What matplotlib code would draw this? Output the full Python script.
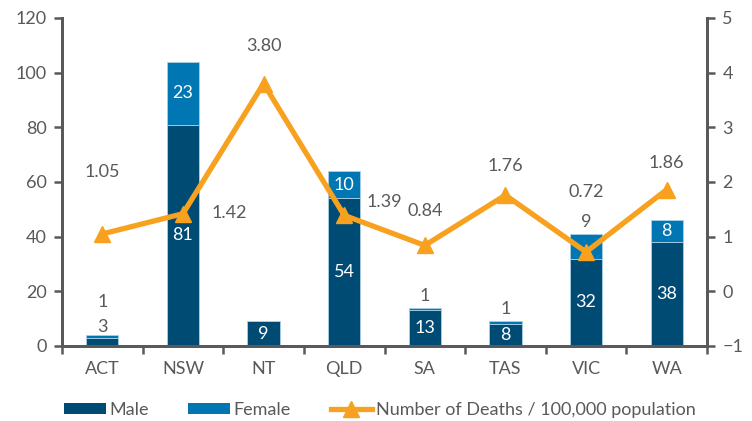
import matplotlib
matplotlib.use("Agg")
import matplotlib.pyplot as plt
from matplotlib.lines import Line2D
from matplotlib.patches import Patch
import numpy as np

states = ["ACT", "NSW", "NT", "QLD", "SA", "TAS", "VIC", "WA"]
male = [3, 81, 9, 54, 13, 8, 32, 38]
female = [1, 23, 0, 10, 1, 1, 9, 8]
rate = [1.05, 1.42, 3.80, 1.39, 0.84, 1.76, 0.72, 1.86]
rate_labels = ["1.05", "1.42", "3.80", "1.39", "0.84", "1.76", "0.72", "1.86"]

# label placement styles (not data), offsets in pixels
male_outside = [True, False, False, False, False, False, False, False]
female_outside = [True, False, False, False, True, True, True, False]
rate_offsets = [(0, 62), (46, 1), (0, 38), (40, 13), (0, 34), (0, 29), (0, 60), (0, 27)]

DARK = "#004B74"
MID = "#0077B3"
ORANGE = "#F7A11F"
GRAY = "#595959"
FS = 13

plt.rcParams["font.family"] = ["Lato", "DejaVu Sans"]

fig = plt.figure(figsize=(7.52, 4.21), dpi=100)
ax = fig.add_axes([62/752, 1-346/421, (707-62)/752, (346-18)/421])
x = np.arange(len(states))
w = 0.4
edge = "#a9d0e6"
ax.bar(x, male, w, color=DARK, edgecolor=edge, linewidth=0.6, zorder=2)
ax.bar(x, female, w, bottom=male, color=MID, edgecolor=edge, linewidth=0.6, zorder=2)

ax.set_xlim(-0.5, len(states) - 0.5)
ax.set_ylim(0, 120)
ax.set_yticks(range(0, 121, 20))
ax.set_xticks(x)
ax.set_xticklabels(states)
ax.set_xticks(np.arange(-0.5, len(states), 1), minor=True)
ax.tick_params(axis="x", which="major", length=0, pad=11, labelsize=FS, labelcolor=GRAY)
ax.tick_params(axis="x", which="minor", length=6, width=1.8, color=GRAY, direction="out")
ax.tick_params(axis="y", length=6, width=1.8, color=GRAY, labelsize=FS, labelcolor=GRAY, pad=5)
for s in ["left", "bottom", "right"]:
    ax.spines[s].set_color(GRAY)
    ax.spines[s].set_linewidth(2)
ax.spines["top"].set_visible(False)

# bar labels
for i in range(len(states)):
    m, f = male[i], female[i]
    if m > 0:
        if male_outside[i]:
            ax.annotate(str(m), (x[i], m + f), xytext=(0, 0), textcoords="offset points",
                        ha="center", va="bottom", color=GRAY, fontsize=FS, zorder=5)
        else:
            ax.text(x[i], m / 2, str(m), ha="center", va="center", color="white", fontsize=FS, zorder=5)
    if f > 0:
        if female_outside[i]:
            off = 18 if male_outside[i] else 3
            ax.annotate(str(f), (x[i], m + f), xytext=(0, off), textcoords="offset points",
                        ha="center", va="bottom", color=GRAY, fontsize=FS, zorder=5)
        else:
            ax.text(x[i], m + f / 2, str(f), ha="center", va="center", color="white", fontsize=FS, zorder=5)

ax2 = ax.twinx()
ax2.set_ylim(-1, 5)
ax2.set_yticks(range(-1, 6))
ax2.plot(x, rate, color=ORANGE, linewidth=3.8, marker="^", markersize=12, zorder=4)
ax2.tick_params(axis="y", length=6, width=1.8, color=GRAY, labelsize=FS, labelcolor=GRAY, pad=5)
for s in ["left", "bottom", "right"]:
    ax2.spines[s].set_color(GRAY)
    ax2.spines[s].set_linewidth(2)
ax2.spines["top"].set_visible(False)
for i in range(len(states)):
    dx, dy = rate_offsets[i]
    ax2.annotate(rate_labels[i], (x[i], rate[i]), xytext=(dx * 0.72, dy * 0.72), textcoords="offset points",
                 ha="center", va="center", color=GRAY, fontsize=FS)

handles = [Patch(facecolor=DARK, label="Male"),
           Patch(facecolor=MID, label="Female"),
           Line2D([0], [0], color=ORANGE, lw=3.8, marker="^", markersize=12, label="Number of Deaths / 100,000 population")]
leg = fig.legend(handles=handles, loc="center", bbox_to_anchor=(0.505, 1 - 410/421), ncol=3,
                 frameon=False, fontsize=FS, handlelength=2.3, handleheight=0.6, columnspacing=2.2,
                 handletextpad=0.2)
for t in leg.get_texts():
    t.set_color(GRAY)

fig.savefig("out.png", dpi=100)
